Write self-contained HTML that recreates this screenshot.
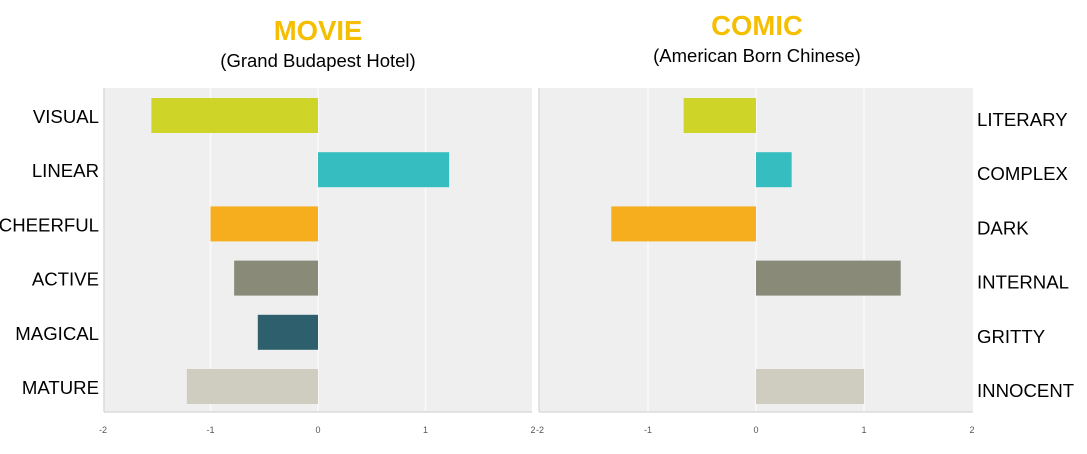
<!DOCTYPE html>
<html><head><meta charset="utf-8"><style>
body{margin:0;background:#fff;font-family:"Liberation Sans",sans-serif}
svg text{font-family:"Liberation Sans",sans-serif}
</style></head><body>
<svg id="c" width="1087" height="449"></svg>
<script>
const movieCats=["VISUAL","LINEAR","CHEERFUL","ACTIVE","MAGICAL","MATURE"];
const movieVals=[-1.55,1.22,-1.0,-0.78,-0.56,-1.22];
const comicCats=["LITERARY","COMPLEX","DARK","INTERNAL","GRITTY","INNOCENT"];
const comicVals=[-0.67,0.33,-1.34,1.34,0,1.0];
const colors=["#cfd428","#35bdbf","#f6ae1f","#8a8a79","#2e5f6c","#cfcdbf"];
const ticks=[-2,-1,0,1,2];
const NS="http://www.w3.org/2000/svg";
const svg=document.getElementById('c');
function mk(t,a,txt){const e=document.createElementNS(NS,t);for(const k in a)e.setAttribute(k,a[k]);if(txt!==undefined)e.textContent=txt;svg.appendChild(e);return e;}
function panel(p){
  const x=v=>p.zero+v*p.unit;
  const bg=mk('rect',{x:p.left,y:88,width:p.right-p.left,height:324,fill:'#efefef'});
  
  mk('line',{x1:p.left,y1:88,x2:p.left,y2:412,stroke:'#dcdcdc','stroke-width':1.5});
  mk('line',{x1:p.left,y1:412,x2:p.right,y2:412,stroke:'#dcdcdc','stroke-width':1.5});
  [-1,0,1].forEach(t=>{const g=mk('line',{x1:x(t),y1:88,x2:x(t),y2:411,stroke:'#fafafa','stroke-width':1.5});
    });
  ticks.forEach(t=>{const e=mk('text',{x:x(t),y:433,'font-size':9,fill:'#555','text-anchor':'middle'},String(t));
    });
  p.vals.forEach((v,i)=>{
    const y=98+i*54.2;
    const b=mk('rect',{x:Math.min(x(0),x(v)),y:y,width:Math.abs(x(v)-x(0)),height:35,fill:colors[i]});
    
    
    const l=mk('text',{x:p.labelX,y:y+25+p.labelDy,'font-size':18.6,fill:'#000','text-anchor':p.anchor},p.cats[i]);
    
    
  });
}
panel({id:'movie',left:104,right:532,zero:318,unit:107.5,vals:movieVals,cats:movieCats,labelX:99,anchor:'end',labelDy:0});
panel({id:'comic',left:539,right:973,zero:756,unit:108,vals:comicVals,cats:comicCats,labelX:977,anchor:'start',labelDy:3});
let t;
t=mk('text',{x:318,y:40,'font-size':27.5,'font-weight':'bold',fill:'#f6be00','text-anchor':'middle'},'MOVIE');

t=mk('text',{x:318,y:67,'font-size':18.5,fill:'#000','text-anchor':'middle'},'(Grand Budapest Hotel)');

t=mk('text',{x:757,y:35,'font-size':27.5,'font-weight':'bold',fill:'#f6be00','text-anchor':'middle'},'COMIC');

t=mk('text',{x:757,y:62,'font-size':18.5,fill:'#000','text-anchor':'middle'},'(American Born Chinese)');

</script>
</body></html>
